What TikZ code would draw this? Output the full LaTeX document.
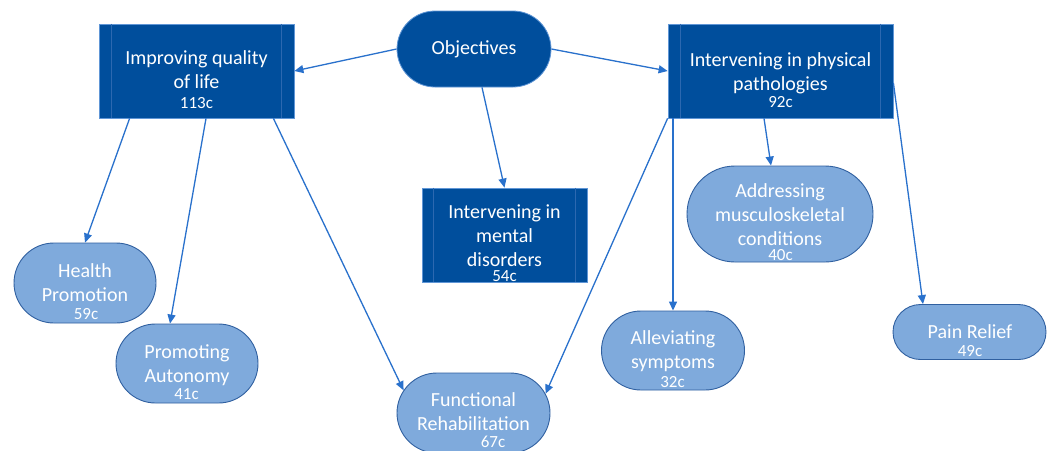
\documentclass[tikz,border=0pt]{standalone}
\usepackage{fontspec}
\setmainfont{Carlito}
\usetikzlibrary{shapes.misc,arrows.meta}

\definecolor{boxdark}{RGB}{0,78,156}
\definecolor{boxedge}{RGB}{96,150,214}
\definecolor{boxinner}{RGB}{44,104,176}
\definecolor{pillfill}{RGB}{127,170,220}
\definecolor{pilledge}{RGB}{48,96,160}
\definecolor{linkblue}{RGB}{41,113,204}

\tikzset{
  darkbox/.style={rectangle, fill=boxdark, draw=boxedge, line width=0.8pt, inner sep=0pt},
  darkpill/.style={rounded rectangle, fill=boxdark, draw=boxedge, line width=0.8pt, inner sep=0pt,
    text=white, font=\fontsize{20}{24}\selectfont},
  pill/.style={rounded rectangle, fill=pillfill, draw=pilledge, line width=0.9pt, inner sep=0pt},
  innerline/.style={draw=boxinner, line width=0.8pt},
  txt/.style={anchor=north, inner sep=0pt, align=center, text=white, font=\fontsize{20}{24}\selectfont},
  num/.style={anchor=base, inner sep=0pt, text=white, font=\fontsize{17}{17}\selectfont},
  link/.style={draw=linkblue, line width=1.3pt, -{Triangle[length=9pt,width=8pt]}}
}

\begin{document}
\begin{tikzpicture}[x=1pt,y=-1pt]
\useasboundingbox (0,0) rectangle (1051,450);
\clip (0,0) rectangle (1051,450);
\fill[white] (0,0) rectangle (1051,450);

% central goal
\node[darkpill, minimum width=154pt, minimum height=76pt] (obj) at (474,49) {Objectives};

% three main branches (predefined-process boxes)
\node[darkbox, minimum width=195pt, minimum height=94pt] (iql) at (196.5,71) {};
\node[darkbox, minimum width=225pt, minimum height=94pt] (phys) at (780.5,71) {};
\node[darkbox, minimum width=165pt, minimum height=94pt] (mental) at (504.5,235) {};
\foreach \b/\d in {iql/13, phys/13, mental/12}{
  \draw[innerline] ([xshift=\d pt]\b.north west) -- ([xshift=\d pt]\b.south west);
  \draw[innerline] ([xshift=-\d pt]\b.north east) -- ([xshift=-\d pt]\b.south east);
}

% sub-objectives
\node[pill, minimum width=142pt, minimum height=80pt] (hp) at (85,283) {};
\node[pill, minimum width=142pt, minimum height=79pt] (pa) at (187,363.5) {};
\node[pill, minimum width=153pt, minimum height=80pt] (fr) at (473.5,413) {};
\node[pill, minimum width=186pt, minimum height=96pt] (amc) at (780,214) {};
\node[pill, minimum width=143pt, minimum height=79pt] (as) at (673,350.5) {};
\node[pill, minimum width=153pt, minimum height=55pt] (pr) at (969.5,332) {};

% labels
\node[txt] (iql-t) at (196.5,47.7) {\strut Improving quality\\of life};
\node[num] (iql-n) at (196.5,108.3) {113c};
\node[txt] (phys-t) at (780.5,49.7) {\strut Intervening in physical\\pathologies};
\node[num] (phys-n) at (780.5,107.3) {92c};
\node[txt] (mental-t) at (504.5,201.7) {\strut Intervening in\\mental\\disorders};
\node[num] (mental-n) at (504.5,281) {54c};
\node[txt] (hp-t) at (85,260.7) {\strut Health\\Promotion};
\node[num] (hp-n) at (86,319.3) {59c};
\node[txt] (pa-t) at (187,341.7) {\strut Promoting\\Autonomy};
\node[num] (pa-n) at (186.5,399.3) {41c};
\node[txt] (fr-t) at (473.5,389.7) {\strut Functional\\Rehabilitation};
\node[num] (fr-n) at (493,447.5) {67c};
\node[txt] (amc-t) at (780,180.7) {\strut Addressing\\musculoskeletal\\conditions};
\node[num] (amc-n) at (780.5,260) {40c};
\node[txt] (as-t) at (673,327.7) {\strut Alleviating\\symptoms};
\node[num] (as-n) at (672.5,387.3) {32c};
\node[txt] (pr-t) at (970,321.7) {\strut Pain Relief};
\node[num] (pr-n) at (970,356.3) {49c};

% connectors
\draw[link] (obj.west) -- (iql.east);
\draw[link] (obj.east) -- (phys.west);
\draw[link] ([xshift=8pt]obj.south) -- (mental.north);
\draw[link] ([xshift=31pt]iql.south west) -- (hp.north);
\draw[link] ([xshift=9.5pt]iql.south) -- ([xshift=-17pt]pa.north);
\draw[link] ([xshift=-21pt]iql.south east) -- (fr.162);
\draw[link] (phys.south west) -- (fr.15);
\draw[link] (as.north |- phys.south) -- (as.north);
\draw[link] ([xshift=-16.5pt]phys.south) -- ([xshift=-9pt]amc.north);
\draw[link] ([yshift=-12pt]phys.east) -- ([xshift=-46.5pt]pr.north);
\end{tikzpicture}
\end{document}
